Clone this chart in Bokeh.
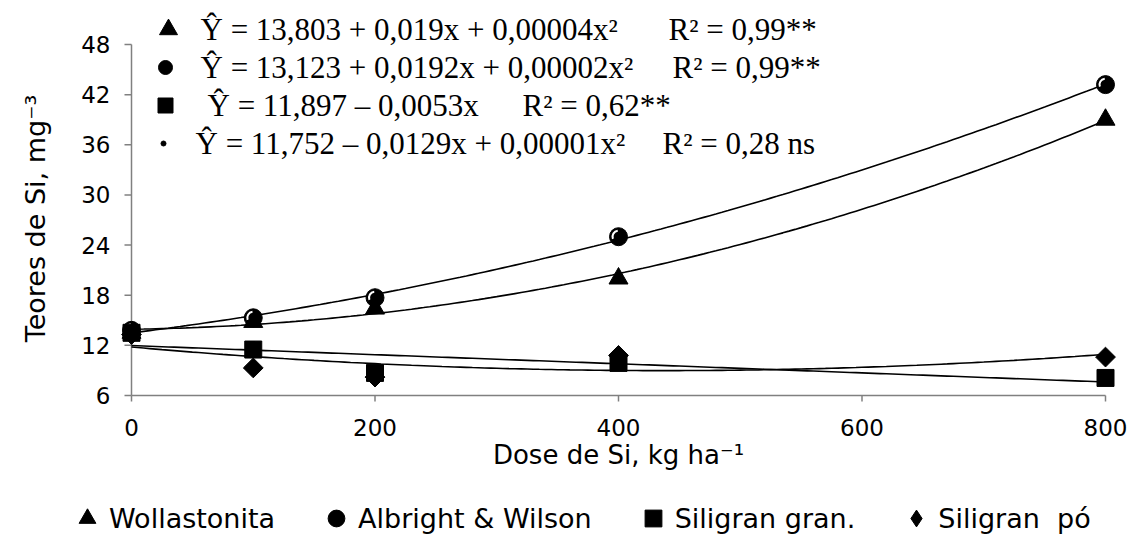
import numpy as np
from bokeh.plotting import figure
from bokeh.models import Range1d, Legend, LegendItem
from bokeh.core.properties import value
from bokeh.embed import file_html
from bokeh.resources import INLINE

# ---------------- data ----------------
doses = [0, 100, 200, 400, 800]
wollastonita = [13.5, 14.8, 16.4, 20.0, 39.0]
albright = [13.8, 15.3, 17.7, 25.0, 43.2]
siligran_gran = [13.5, 11.5, 8.7, 9.9, 8.1]
siligran_po = [13.3, 9.3, 8.2, 10.8, 10.6]

series_names = ["Wollastonita", "Albright & Wilson", "Siligran gran.", "Siligran  pó"]
fit_degree = [2, 2, 1, 2]

x_ticks = [0, 200, 400, 600, 800]
y_ticks = [6, 12, 18, 24, 30, 36, 42, 48]

equations = [
    "Ŷ  = 13,803 + 0,019x + 0,00004x²",
    "Ŷ  = 13,123 + 0,0192x + 0,00002x²",
    "Ŷ = 11,897 – 0,0053x",
    "Ŷ = 11,752 – 0,0129x + 0,00001x²",
]
r2_texts = ["R² = 0,99**", "R² = 0,99**", "R² = 0,62**", "R² = 0,28 ns"]

x_title = "Dose de Si, kg ha⁻¹"
y_title = "Teores de Si, mg⁻³"

# ---------------- layout (canvas pixels) ----------------
W, H = 1138, 535
PX_X0, PX_X800 = 131.0, 1105.0     # canvas x of dose 0 and 800
PY_48, PY_6 = 44.0, 395.0          # canvas y of 48 and 6
sx = (PX_X800 - PX_X0) / 800.0
sy = (PY_6 - PY_48) / 42.0


def dx(px):
    return (px - PX_X0) / sx


def dy(py):
    return 48 - (py - PY_48) / sy


p = figure(width=W, height=H, output_backend="svg", toolbar_location=None,
           x_range=Range1d(dx(0), dx(W)), y_range=Range1d(dy(H), dy(0)),
           x_axis_location=None, y_axis_location=None,
           min_border_left=0, min_border_right=0, min_border_top=0, min_border_bottom=0)
p.outline_line_color = None
p.grid.visible = False
p.background_fill_color = "white"
p.border_fill_color = "white"

AX = "#808080"
SANS = value("DejaVu Sans")
SERIF = value("Liberation Serif")

# ---- axes: lines, ticks, tick labels, titles ----
x_min, x_max = x_ticks[0], x_ticks[-1]
y_min, y_max = y_ticks[0], y_ticks[-1]
p.segment(x0=[x_min], y0=[y_min], x1=[x_min], y1=[y_max], line_color=AX, line_width=1.5)
p.segment(x0=[x_min], y0=[y_min], x1=[x_max], y1=[y_min], line_color=AX, line_width=1.5)
p.ray(x=[x_min] * len(y_ticks), y=y_ticks, length=7, length_units="screen", angle=np.pi,
      line_color=AX, line_width=1.5)
p.ray(x=x_ticks, y=[y_min] * len(x_ticks), length=6, length_units="screen", angle=-np.pi / 2,
      line_color=AX, line_width=1.5)

p.text(x=[dx(110)] * len(y_ticks), y=y_ticks, text=[str(t) for t in y_ticks],
       text_font=SANS, text_font_size="23px", text_align="right",
       text_baseline="middle", text_color="black")
p.text(x=x_ticks, y=[dy(427)] * len(x_ticks), text=[str(t) for t in x_ticks],
       text_font=SANS, text_font_size="23px", text_align="center",
       text_baseline="middle", text_color="black")
p.text(x=[dx(618)], y=[dy(454)], text=[x_title], text_font=SANS, text_font_size="26px",
       text_align="center", text_baseline="middle", text_color="black")
p.text(x=[dx(35)], y=[dy(218)], text=[y_title], text_font=SANS, text_font_size="27px",
       text_align="center", text_baseline="middle", text_color="black", angle=np.pi / 2)

# ---- trend lines (least-squares fits of the plotted points) ----
xs = np.linspace(x_min, x_max, 161)
for vals, deg in zip([wollastonita, albright, siligran_gran, siligran_po], fit_degree):
    coef = np.polyfit(doses, vals, deg)
    p.line(xs, np.polyval(coef, xs), line_color="black", line_width=1.6)

# ---- markers ----
r_tri = p.scatter(doses, wollastonita, marker="triangle", size=19,
                  fill_color="black", line_color="black")
r_circ = p.scatter(doses, albright, marker="circle", size=18,
                   fill_color="black", line_color="black")
p.arc(x=doses, y=albright, radius=6, radius_units="screen",
      start_angle=1.7, end_angle=3.5, line_color="white", line_width=2)
# diamond renderer used by the legend (fully covered by the wider rotated squares)
r_dia_leg = p.scatter(doses, siligran_po, marker="diamond", size=14,
                      fill_color="black", line_color="black")
r_dia = p.scatter(doses, siligran_po, marker="square", angle=np.pi / 4, size=14,
                  fill_color="black", line_color="black")
r_sq = p.scatter(doses, siligran_gran, marker="square", size=17,
                 fill_color="black", line_color="black")

# ---- equations block ----
eq_rows_py = [29, 67, 105, 143]
eq_mark_px = [168, 165, 165, 163]
eq_mark_kind = ["triangle", "circle", "square", "circle"]
eq_mark_size = [18, 14, 15, 5]
eq_text_px = [200, 200, 207, 195]
r2_px = [668, 672, 522, 662]

for i in range(4):
    p.scatter([dx(eq_mark_px[i])], [dy(eq_rows_py[i])], marker=eq_mark_kind[i],
              size=eq_mark_size[i], fill_color="black", line_color="black")

p.text(x=[dx(v) for v in eq_text_px], y=[dy(v) for v in eq_rows_py], text=equations,
       text_font=SERIF, text_font_size="31px",
       text_baseline="middle", text_align="left", text_color="black")
p.text(x=[dx(v) for v in r2_px], y=[dy(v) for v in eq_rows_py], text=r2_texts,
       text_font=SERIF, text_font_size="31px",
       text_baseline="middle", text_align="left", text_color="black")

# ---- legend ----
legend = Legend(
    items=[LegendItem(label=n, renderers=[r]) for n, r in
           zip(series_names, [r_tri, r_circ, r_sq, r_dia_leg])],
    orientation="horizontal",
    location=(66, -4),
    border_line_color=None, background_fill_alpha=0,
    label_text_font="DejaVu Sans", label_text_font_size="27px",
    label_text_color="black",
    glyph_width=42, glyph_height=42, label_standoff=1, spacing=40,
    padding=0, margin=0, label_height=20,
)
p.add_layout(legend)

open("out.html", "w").write(file_html(p, INLINE))
